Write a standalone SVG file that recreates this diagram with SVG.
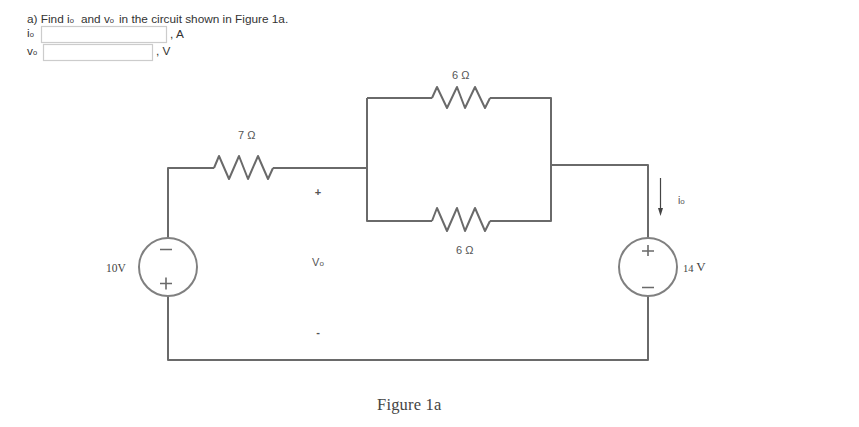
<svg xmlns="http://www.w3.org/2000/svg" width="859" height="427" viewBox="0 0 859 427">
<style>
.w{fill:none;stroke:#6a6a6a;stroke-width:2;stroke-linejoin:round}
.c{fill:#fff;stroke:#808080;stroke-width:2}
.s{fill:none;stroke:#6a6a6a;stroke-width:1.6}
.t{font-family:"Liberation Sans",Arial,sans-serif;font-size:11.8px;fill:#333}
.l{font-family:"Liberation Sans",Arial,sans-serif;fill:#555}
.r{font-family:"Liberation Serif","Times New Roman",serif;fill:#444}
.b{fill:#fff;stroke:#ccc;stroke-width:1.2}
</style>
<rect width="859" height="427" fill="#fff"/>
<g id="question">
<text class="t" x="27" y="23">a) Find i<tspan font-size="7.5">o</tspan><tspan x="81">and v</tspan><tspan font-size="7.5">o</tspan><tspan x="119">in the circuit shown in Figure 1a.</tspan></text>
<text class="t" x="27" y="37">i<tspan font-size="7.5">o</tspan></text>
<rect class="b" x="41.500" y="26.500" width="125" height="16"/>
<text class="t" x="170" y="38">, A</text>
<text class="t" x="27" y="55">v<tspan font-size="7.5">o</tspan></text>
<rect class="b" x="43.500" y="44.500" width="109" height="16"/>
<text class="t" x="156" y="55">, V</text>
</g>
<g id="connectors">
<path class="w" d="M168 238V168H214M273 168H367"/>
<path class="w" d="M168 296V360H648V296"/>
<path class="w" d="M367 98H432M490 98H551V221H490M432 221H367V98"/>
<path class="w" d="M551 165H648V238"/>
</g>
<g id="r7">
<path class="w" d="M214 168L219 156L229 179L239 156L248 179L258 156L268 179L273 168"/>
<text class="l" x="238" y="139" font-size="11">7 Ω</text>
</g>
<g id="r6top">
<path class="w" d="M432 98L437 87L447 108L457 87L465 108L475 87L485 108L490 98"/>
<text class="l" x="452" y="79" font-size="11">6 Ω</text>
</g>
<g id="r6bottom">
<path class="w" d="M432 221L437 208L447 231L457 208L465 231L475 208L485 231L490 221"/>
<text class="l" x="456" y="254" font-size="11">6 Ω</text>
</g>
<g id="source10">
<circle class="c" cx="168" cy="267" r="29"/>
<path class="s" d="M160 249.500H172M160 283.500H172M166 277.500V289.500"/>
<text class="r" x="106" y="272" font-size="11.500">10V</text>
</g>
<g id="source14">
<circle class="c" cx="648" cy="267" r="29"/>
<path class="s" d="M642 251H654M648 245V256M642 287.500H654"/>
<text class="r" x="683" y="272" font-size="10.500">14 <tspan font-size="13" dy="-1">V</tspan></text>
</g>
<g id="vo">
<text class="l" x="318" y="196" font-size="11" font-weight="bold" text-anchor="middle">+</text>
<text class="l" x="318" y="266" font-size="11" text-anchor="middle">V<tspan font-size="8">o</tspan></text>
<text class="l" x="318" y="336" font-size="11" font-weight="bold" text-anchor="middle">-</text>
</g>
<g id="io">
<path d="M660.500 178V209" stroke="#444" stroke-width="1.200" fill="none"/>
<path d="M658 208H663L660.500 216Z" fill="#444"/>
<text class="l" x="678" y="204" font-size="10.500">i<tspan font-size="8">o</tspan></text>
</g>
<g id="caption">
<text class="r" x="377" y="410" font-size="16.500" letter-spacing="0.2">Figure 1a</text>
</g>
</svg>
